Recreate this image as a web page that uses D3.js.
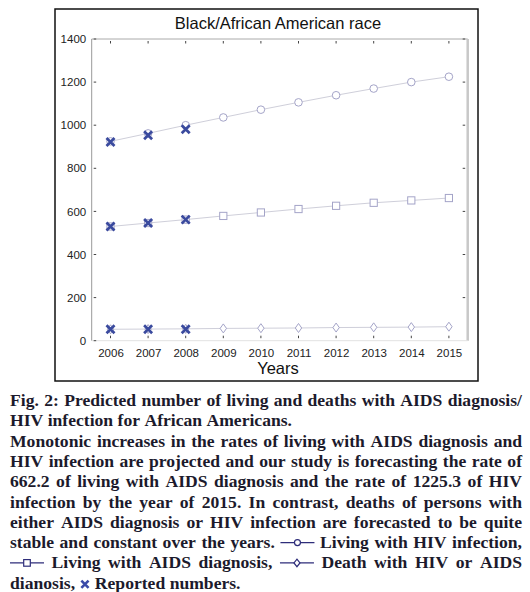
<!DOCTYPE html>
<html><head><meta charset="utf-8">
<script src="https://cdn.jsdelivr.net/npm/d3@7"></script>
<style>body{margin:0;background:#fff}svg{display:block}</style>
</head><body><svg id="c" width="530" height="592"></svg>
<script>
const years = [2006,2007,2008,2009,2010,2011,2012,2013,2014,2015];
const hivFitted  = [925, 962, 1000, 1036, 1072, 1106, 1139, 1170, 1200, 1225];
const aidsFitted = [530, 546, 562, 579, 595, 611, 626, 640, 651, 662];
const deathFitted= [53, 54, 55, 57, 58, 59, 61, 62, 63, 65];
const reportedYears = [2006,2007,2008];
const hivReported  = [922, 953, 981];
const aidsReported = [530, 546, 562];
const deathReported= [53, 53, 53];
const yTicks = [0,200,400,600,800,1000,1200,1400];
const title = "Black/African American race";
const xTitle = "Years";
const captionLines = [
  {t:"Fig. 2: Predicted number of living and deaths with AIDS diagnosis/", j:true},
  {t:"HIV infection for African Americans.", j:false},
  {t:"Monotonic increases in the rates of living with AIDS diagnosis and", j:true},
  {t:"HIV infection are projected and our study is forecasting the rate of", j:true},
  {t:"662.2 of living with AIDS diagnosis and the rate of 1225.3 of HIV", j:true},
  {t:"infection by the year of 2015. In contrast, deaths of persons with", j:true},
  {t:"either AIDS diagnosis or HIV infection are forecasted to be quite", j:true},
  {t:"stable and constant over the years. [circle] Living with HIV infection,", j:true},
  {t:"[square] Living with AIDS diagnosis, [diamond] Death with HIV or AIDS", j:true},
  {t:"dianosis, [x] Reported numbers.", j:false}
];

const svg = d3.select("#c");
const frame = {x0:55, y0:9, x1:478, y1:381};
const plot = {l:91.7, r:467.7, t:39, b:340.7};
const x = d3.scaleLinear().domain([2005.5, 2015.5]).range([plot.l, plot.r]);
const y = d3.scaleLinear().domain([0, 1400]).range([plot.b, plot.t]);

svg.append("rect").attr("x",frame.x0).attr("y",frame.y0)
  .attr("width",frame.x1-frame.x0).attr("height",frame.y1-frame.y0)
  .attr("fill","none").attr("stroke","#111").attr("stroke-width",1.5);

// axis lines
svg.append("line").attr("x1",plot.l).attr("x2",plot.r).attr("y1",plot.t).attr("y2",plot.t).attr("stroke","#aaa");
svg.append("line").attr("x1",plot.l).attr("x2",plot.l).attr("y1",plot.t).attr("y2",plot.b).attr("stroke","#999");
svg.append("line").attr("x1",plot.r).attr("x2",plot.r).attr("y1",plot.t).attr("y2",plot.b).attr("stroke","#c8c8c8").attr("stroke-width",2.5);
svg.append("line").attr("x1",plot.l).attr("x2",plot.r).attr("y1",plot.b).attr("y2",plot.b).attr("stroke","#e2e2e2");

// left axis ticks and labels
const yAxis = d3.axisLeft(y).tickValues(yTicks).tickSize(0).tickPadding(5).tickFormat(d3.format("d"));
const gy = svg.append("g").attr("transform",`translate(${plot.l-0.5},0)`).call(yAxis);
gy.select(".domain").remove();
gy.selectAll("text").attr("font-family","Arial, 'Liberation Sans', sans-serif").attr("font-size",11.5).attr("fill","#222");
svg.selectAll(".ltick").data(yTicks).join("line")
  .attr("x1",plot.l+2).attr("x2",plot.l+4.5).attr("y1",d=>y(d)).attr("y2",d=>y(d)).attr("stroke","#444");
svg.selectAll(".rtick").data(yTicks.slice(1)).join("line")
  .attr("x1",plot.r-5).attr("x2",plot.r-2.5).attr("y1",d=>y(d)).attr("y2",d=>y(d)).attr("stroke","#444");

// bottom axis labels
const xAxis = d3.axisBottom(x).tickValues(years).tickSize(0).tickPadding(8).tickFormat(d3.format("d"));
const gx = svg.append("g").attr("transform",`translate(0,${plot.b})`).call(xAxis);
gx.select(".domain").remove();
gx.selectAll("text").attr("font-family","Arial, 'Liberation Sans', sans-serif").attr("font-size",11.5).attr("fill","#222");
svg.selectAll(".btick").data(years).join("line")
  .attr("x1",d=>x(d)).attr("x2",d=>x(d)).attr("y1",plot.b-5).attr("y2",plot.b-2.5).attr("stroke","#444");
svg.selectAll(".ttick").data(years).join("line")
  .attr("x1",d=>x(d)).attr("x2",d=>x(d)).attr("y1",plot.t+2).attr("y2",plot.t+4.5).attr("stroke","#444");

// titles
svg.append("text").attr("x",278).attr("y",28.5).attr("text-anchor","middle")
  .attr("font-family","Arial, 'Liberation Sans', sans-serif").attr("font-size",16.5).attr("fill","#111").text(title);
svg.append("text").attr("x",278).attr("y",373.5).attr("text-anchor","middle")
  .attr("font-family","Arial, 'Liberation Sans', sans-serif").attr("font-size",16.5).attr("fill","#111").text(xTitle);

// fitted lines
const lineGen = d3.line().x((d,i)=>x(years[i])).y(d=>y(d));
const lineCol = "#cfcfda", markCol = "#a4a4c8";
[hivFitted, aidsFitted, deathFitted].forEach(s=>{
  svg.append("path").attr("d",lineGen(s)).attr("fill","none").attr("stroke",lineCol).attr("stroke-width",1);
});
const mk = svg.append("g").attr("fill","#fff").attr("stroke",markCol).attr("stroke-width",1);
mk.selectAll(".c").data(hivFitted).join("circle").attr("cx",(d,i)=>x(years[i])).attr("cy",d=>y(d)).attr("r",3.8);
mk.selectAll(".s").data(aidsFitted).join("rect").attr("x",(d,i)=>x(years[i])-3.6).attr("y",d=>y(d)-3.6).attr("width",7.2).attr("height",7.2);
mk.selectAll(".d").data(deathFitted).join("path")
  .attr("d",(d,i)=>{const cx=x(years[i]), cy=y(d);return `M${cx},${cy-4.5}L${cx+3.2},${cy}L${cx},${cy+4.5}L${cx-3.2},${cy}Z`;});

// reported X markers
const xCol = "#3a4a9e";
function cross(g, cx, cy, s, w){
  g.append("path").attr("d",`M${cx-s},${cy-s}L${cx+s},${cy+s}M${cx-s},${cy+s}L${cx+s},${cy-s}`)
   .attr("stroke",xCol).attr("stroke-width",w).attr("fill","none");
}
const rg = svg.append("g");
[hivReported, aidsReported, deathReported].forEach(s=>{
  s.forEach((v,i)=>cross(rg, x(reportedYears[i]), y(v), 4, 2.7));
});

// caption
const capFont = "'Liberation Serif', 'Times New Roman', serif";
const capSize = 17.6;
const capCol = "#1c1a2c";
const symCol = "#2e2d7a";
const left = 10, right = 522;
const cap = svg.append("g");
const meas = svg.append("text").attr("font-family",capFont).attr("font-size",capSize).attr("font-weight","bold");
function wWidth(w){ meas.text(w); return meas.node().getComputedTextLength(); }
const symW = {"[circle]":34,"[square]":34,"[diamond]":34,"[x]":11};
const spaceW = wWidth("a a") - wWidth("aa");
captionLines.forEach((ln,li)=>{
  const base = 406 + li*20.3;
  const toks = ln.t.split(" ");
  const widths = toks.map(t=> symW[t] !== undefined ? symW[t] : wWidth(t));
  const total = d3.sum(widths);
  const gap = ln.j ? (right-left-total)/(toks.length-1) : spaceW;
  let cx = left;
  toks.forEach((t,i)=>{
    if(symW[t] !== undefined){
      const mid = cx + widths[i]/2, my = base-5.5;
      if(t==="[x]"){
        const s=3.6;
        cap.append("path").attr("d",`M${mid-s},${my-s+1}L${mid+s},${my+s+1}M${mid-s},${my+s+1}L${mid+s},${my-s+1}`)
          .attr("stroke","#3a4aa8").attr("stroke-width",2.6).attr("fill","none");
      } else {
        cap.append("line").attr("x1",cx).attr("x2",cx+widths[i]).attr("y1",my).attr("y2",my).attr("stroke",symCol).attr("stroke-width",1.3);
        if(t==="[circle]") cap.append("circle").attr("cx",mid).attr("cy",my).attr("r",3).attr("fill","#fff").attr("stroke",symCol).attr("stroke-width",1.2);
        if(t==="[square]") cap.append("rect").attr("x",mid-3.3).attr("y",my-3.3).attr("width",6.6).attr("height",6.6).attr("fill","#fff").attr("stroke",symCol).attr("stroke-width",1.2);
        if(t==="[diamond]") cap.append("path").attr("d",`M${mid},${my-3.8}L${mid+3},${my}L${mid},${my+3.8}L${mid-3},${my}Z`).attr("fill","#fff").attr("stroke",symCol).attr("stroke-width",1.2);
      }
    } else {
      cap.append("text").attr("x",cx).attr("y",base).attr("font-family",capFont).attr("font-size",capSize)
        .attr("font-weight","bold").attr("fill",capCol).text(t);
    }
    cx += widths[i] + gap;
  });
});
meas.remove();
</script></body></html>
